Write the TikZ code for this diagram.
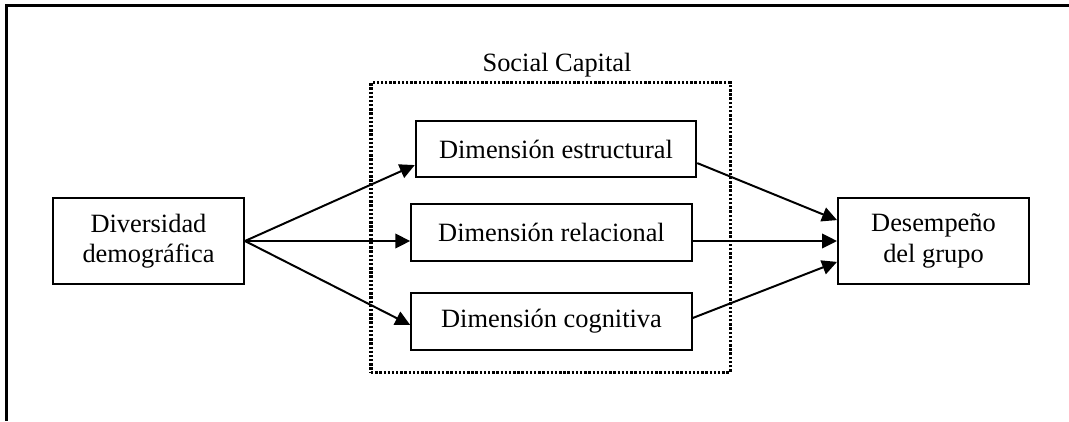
\documentclass[tikz,border=0pt]{standalone}
\usepackage{fontspec}
\setmainfont{Liberation Serif}
\usetikzlibrary{arrows.meta}

\tikzset{
  dimbox/.style={draw, line width=0.9pt, inner sep=0pt, align=center,
    minimum width=127.5pt, minimum height=25.8pt,
    font=\fontsize{12}{13.8}\selectfont},
  sidebox/.style={dimbox, minimum width=86.8pt, minimum height=39.1pt},
  capbox/.style={draw, line width=1.4pt, dash pattern=on 1.1pt off 0.8pt,
    minimum width=163.2pt, minimum height=131.4pt, inner sep=0pt},
  flow/.style={-{Triangle[length=6.8pt,width=6.6pt]}, line width=0.9pt}
}

\begin{document}
\begin{tikzpicture}[x=0.4545pt,y=-0.4545pt]
  \useasboundingbox (0,0) rectangle (1069,421);
  % frame
  \draw[line width=1.1pt] (1069,5.5) -- (6.5,5.5) -- (6.5,421);

  \node[capbox] (cap) at (550.5,227.5) {};
  \node[anchor=base, font=\fontsize{12}{13.8}\selectfont] (lbl) at (557,71) {Social Capital};

  \node[sidebox] (div) at (148.5,241) {Diversidad\\demográfica};
  \node[dimbox] (est) at (556,149) {Dimensión estructural};
  \node[dimbox] (rel) at (551.5,232.5) {Dimensión relacional};
  \node[dimbox] (cog) at (551.5,321.5) {Dimensión cognitiva};
  \node[sidebox] (des) at (933.5,241) {Desempeño\\del grupo};

  % left arrows
  \draw[flow] (div.east) -- ([yshift=-7.3pt]est.west);
  \draw[flow] (div.east) -- (rel.west |- div.east);
  \draw[flow] (div.east) -- ([yshift=-1.6pt]cog.west);
  % right arrows
  \draw[flow] ([yshift=-6.4pt]est.east) -- ([yshift=9.5pt]des.west);
  \draw[flow] (rel.east |- des.west) -- (des.west);
  \draw[flow] ([yshift=1.6pt]cog.east) -- ([yshift=-9.5pt]des.west);
\end{tikzpicture}
\end{document}
